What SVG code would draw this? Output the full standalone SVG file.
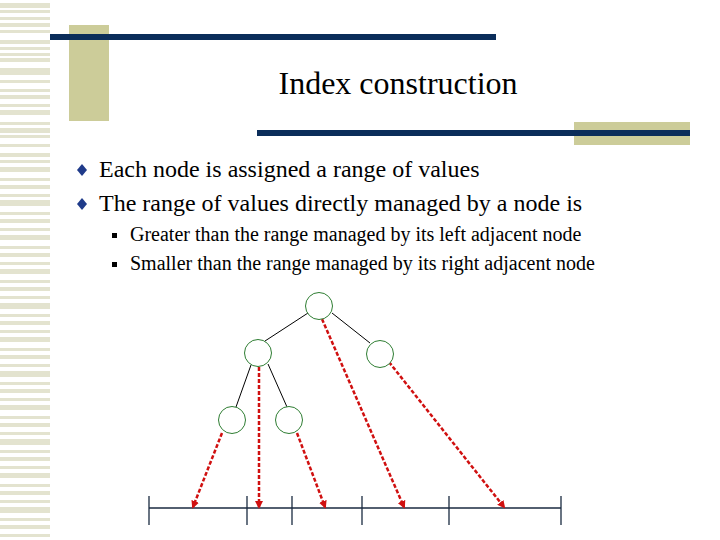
<svg xmlns="http://www.w3.org/2000/svg" width="720" height="540" viewBox="0 0 720 540">
<defs>
<style>
.st{fill:#e3e3cf}
.t{font-family:"Liberation Serif",serif;fill:#000}
.e{stroke:#000;stroke-width:1}
.n{fill:#fff;stroke:#2e7d32;stroke-width:1}
.a{stroke:#d01010;stroke-width:2.5;stroke-dasharray:4,2;marker-end:url(#ah)}
.ax{stroke:#1a2a40;stroke-width:1.3}
</style>
<marker id="ah" markerWidth="8" markerHeight="8" refX="6" refY="4" orient="auto" markerUnits="userSpaceOnUse"><path d="M0,0L8,4L0,8z" fill="#d01010"/></marker>
</defs>
<rect width="720" height="540" fill="#fff"/>
<g id="stripes">
<rect class="st" x="0" y="3" width="50" height="5"/><rect class="st" x="0" y="10" width="50" height="3"/>
<rect class="st" x="0" y="17" width="50" height="3"/><rect class="st" x="0" y="23" width="50" height="4"/>
<rect class="st" x="0" y="30" width="50" height="3"/><rect class="st" x="0" y="40" width="50" height="4"/>
<rect class="st" x="0" y="47" width="50" height="3"/><rect class="st" x="0" y="53" width="50" height="3"/>
<rect class="st" x="0" y="58" width="50" height="4"/><rect class="st" x="0" y="68" width="50" height="7"/>
<rect class="st" x="0" y="80" width="50" height="3"/><rect class="st" x="0" y="89" width="50" height="3"/>
<rect class="st" x="0" y="95" width="50" height="4"/><rect class="st" x="0" y="104" width="50" height="3"/>
<rect class="st" x="0" y="110" width="50" height="5"/><rect class="st" x="0" y="122" width="50" height="3"/>
<rect class="st" x="0" y="128" width="50" height="5"/><rect class="st" x="0" y="135" width="50" height="3"/>
<rect class="st" x="0" y="144" width="50" height="3"/><rect class="st" x="0" y="153" width="50" height="4"/>
<rect class="st" x="0" y="160" width="50" height="3"/><rect class="st" x="0" y="167" width="50" height="5"/>
<rect class="st" x="0" y="178" width="50" height="3"/><rect class="st" x="0" y="185" width="50" height="4"/>
<rect class="st" x="0" y="194" width="50" height="3"/><rect class="st" x="0" y="200" width="50" height="6"/>
<rect class="st" x="0" y="212" width="50" height="3"/><rect class="st" x="0" y="219" width="50" height="4"/>
<rect class="st" x="0" y="228" width="50" height="3"/><rect class="st" x="0" y="235" width="50" height="5"/>
<rect class="st" x="0" y="246" width="50" height="3"/><rect class="st" x="0" y="253" width="50" height="4"/>
<rect class="st" x="0" y="262" width="50" height="3"/><rect class="st" x="0" y="269" width="50" height="5"/>
<rect class="st" x="0" y="280" width="50" height="3"/><rect class="st" x="0" y="287" width="50" height="4"/>
<rect class="st" x="0" y="296" width="50" height="3"/><rect class="st" x="0" y="303" width="50" height="6"/>
<rect class="st" x="0" y="314" width="50" height="3"/><rect class="st" x="0" y="321" width="50" height="4"/>
<rect class="st" x="0" y="330" width="50" height="3"/><rect class="st" x="0" y="337" width="50" height="5"/>
<rect class="st" x="0" y="348" width="50" height="3"/><rect class="st" x="0" y="355" width="50" height="4"/>
<rect class="st" x="0" y="364" width="50" height="3"/><rect class="st" x="0" y="371" width="50" height="6"/>
<rect class="st" x="0" y="382" width="50" height="3"/><rect class="st" x="0" y="389" width="50" height="4"/>
<rect class="st" x="0" y="398" width="50" height="3"/><rect class="st" x="0" y="405" width="50" height="5"/>
<rect class="st" x="0" y="416" width="50" height="3"/><rect class="st" x="0" y="423" width="50" height="4"/>
<rect class="st" x="0" y="432" width="50" height="3"/><rect class="st" x="0" y="439" width="50" height="6"/>
<rect class="st" x="0" y="450" width="50" height="3"/><rect class="st" x="0" y="457" width="50" height="4"/>
<rect class="st" x="0" y="466" width="50" height="3"/><rect class="st" x="0" y="473" width="50" height="5"/>
<rect class="st" x="0" y="484" width="50" height="3"/><rect class="st" x="0" y="491" width="50" height="4"/>
<rect class="st" x="0" y="500" width="50" height="3"/><rect class="st" x="0" y="507" width="50" height="6"/>
<rect class="st" x="0" y="518" width="50" height="3"/><rect class="st" x="0" y="525" width="50" height="4"/>
<rect class="st" x="0" y="534" width="50" height="3"/>
</g>
<g id="header">
<rect x="69" y="25" width="40" height="96" fill="#cccc99"/>
<rect x="50" y="34" width="446" height="6" fill="#0b2d5a"/>
<rect x="574" y="122" width="116" height="23" fill="#cccc99"/>
<rect x="257" y="130" width="433" height="6" fill="#0b2d5a"/>
<text class="t" x="398" y="94" font-size="32" text-anchor="middle">Index construction</text>
</g>
<g id="bullets">
<path d="M82,164L87,170L82,176L77,170z" fill="#1f3b8a"/>
<text class="t" x="99" y="177" font-size="24">Each node is assigned a range of values</text>
<path d="M82,198L87,204L82,210L77,204z" fill="#1f3b8a"/>
<text class="t" x="99" y="211" font-size="24">The range of values directly managed by a node is</text>
<rect x="112" y="233" width="5" height="5" fill="#000"/>
<text class="t" x="130" y="241" font-size="20">Greater than the range managed by its left adjacent node</text>
<rect x="112" y="262" width="5" height="5" fill="#000"/>
<text class="t" x="130" y="270" font-size="20">Smaller than the range managed by its right adjacent node</text>
</g>
<g id="connectors">
<line class="e" x1="308" y1="313" x2="265" y2="341"/>
<line class="e" x1="332" y1="313" x2="370" y2="343"/>
<line class="e" x1="251" y1="365" x2="236" y2="407"/>
<line class="e" x1="268" y1="364" x2="287" y2="407"/>
<line class="ax" x1="149" y1="508" x2="561" y2="508"/>
<line class="ax" x1="149" y1="496" x2="149" y2="525"/>
<line class="ax" x1="247" y1="496" x2="247" y2="525"/>
<line class="ax" x1="292" y1="496" x2="292" y2="525"/>
<line class="ax" x1="362" y1="496" x2="362" y2="525"/>
<line class="ax" x1="449" y1="496" x2="449" y2="525"/>
<line class="ax" x1="561" y1="496" x2="561" y2="525"/>
<line class="a" x1="322" y1="319" x2="404" y2="507"/>
<line class="a" x1="259" y1="367" x2="259" y2="507"/>
<line class="a" x1="389" y1="362" x2="504" y2="507"/>
<line class="a" x1="222" y1="433" x2="193" y2="507"/>
<line class="a" x1="297" y1="433" x2="325" y2="507"/>
</g>
<g id="n-root"><circle class="n" cx="319" cy="306" r="13.5"/></g>
<g id="n-left"><circle class="n" cx="258" cy="353" r="13.5"/></g>
<g id="n-right"><circle class="n" cx="380" cy="354" r="13.5"/></g>
<g id="n-ll"><circle class="n" cx="232" cy="420" r="13.5"/></g>
<g id="n-lr"><circle class="n" cx="289" cy="420" r="13.5"/></g>
</svg>
